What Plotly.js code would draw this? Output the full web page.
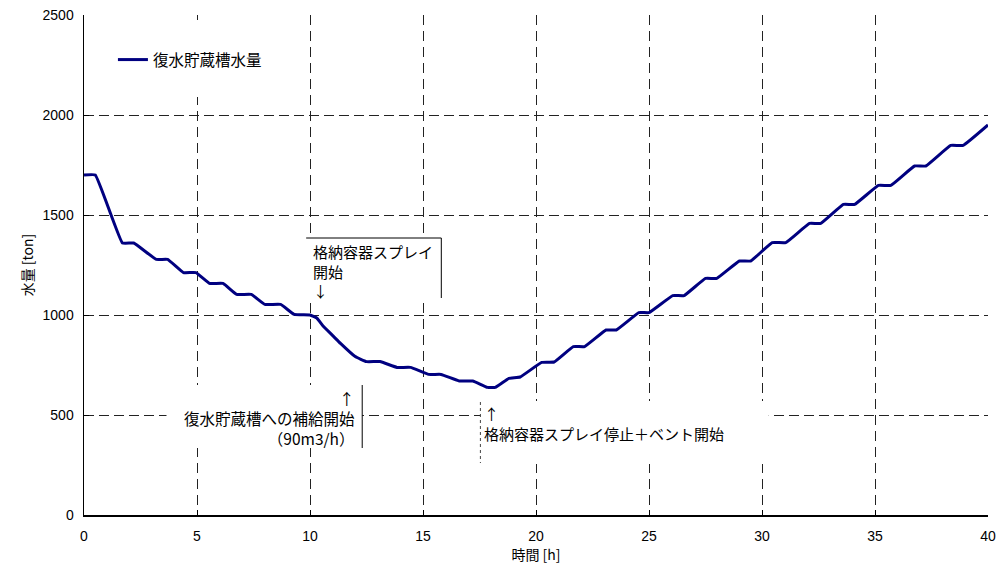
<!DOCTYPE html>
<html>
<head>
<meta charset="utf-8">
<script src="https://cdn.plot.ly/plotly-3.0.1.min.js"></script>
<style>html,body{margin:0;padding:0;background:#fff;}#chart{width:1003px;height:568px;}</style>
</head>
<body>
<div id="chart"></div>
<script>
// time [h]
const hours = [0, 0.5, 1.7, 2.2, 3.2, 3.7, 4.4, 4.95, 5.55, 6.15, 6.75, 7.4, 8.0, 8.7, 9.3, 10.0,
  10.3, 10.6, 11.05, 11.35, 12.0, 12.5, 13.1, 13.85, 14.45, 15.25, 15.8, 16.6, 17.2, 17.85, 18.2,
  18.8, 19.3, 20.25, 20.8, 21.65, 22.15, 23.1, 23.55, 24.55, 25.0, 26.05, 26.55, 27.5, 28.0,
  29.0, 29.5, 30.45, 31.05, 32.1, 32.6, 33.6, 34.1, 35.15, 35.7, 36.75, 37.25, 38.35, 38.9, 40];
// 復水貯蔵槽水量 [ton]
const tankWater = [1700, 1700, 1360, 1360, 1278, 1278, 1212, 1212, 1158, 1158, 1103, 1103, 1053, 1053, 1003, 1000,
  985, 942, 892, 858, 792, 767, 767, 738, 738, 703, 703, 670, 670, 638, 638,
  683, 690, 763, 765, 842, 842, 925, 925, 1012, 1012, 1097, 1097, 1183, 1183,
  1270, 1270, 1362, 1362, 1458, 1458, 1553, 1553, 1648, 1648, 1745, 1745, 1848, 1848, 1950];

const seriesName = '復水貯蔵槽水量';
const xTitle = '時間 [h]';
const yTitle = '水量 [ton]';
const xTicks = [0, 5, 10, 15, 20, 25, 30, 35, 40];
const yTicks = [0, 500, 1000, 1500, 2000, 2500];
const noteSprayStart = '格納容器スプレイ<br>開始<br>↓';
const noteSupply = '↑<br>復水貯蔵槽への補給開始<br>（90m3/h）';
const noteVent = '↑<br>格納容器スプレイ停止＋ベント開始';

const FONT = '"Noto Sans CJK JP", "Liberation Sans", sans-serif';

const trace = {
  x: hours, y: tankWater, type: 'scatter', mode: 'lines', name: seriesName,
  line: {color: '#000080', width: 3, shape: 'spline', smoothing: 0.3}
};

const layout = {
  width: 1003, height: 568,
  margin: {l: 84, r: 15, t: 15, b: 53},
  paper_bgcolor: '#fff', plot_bgcolor: '#fff',
  font: {family: FONT, size: 14, color: '#000'},
  showlegend: true,
  legend: {x: 0.032, y: 0.91, xanchor: 'left', yanchor: 'middle', bgcolor: 'rgba(0,0,0,0)',
    font: {family: FONT, size: 15.5, color: '#000'}},
  xaxis: {
    range: [0, 40], tickvals: xTicks, ticks: 'inside', ticklen: 5, tickcolor: '#000',
    showline: true, linecolor: '#000', linewidth: 1.5, zeroline: false,
    showgrid: true, gridcolor: '#222', gridwidth: 1, griddash: '10px,6px',
    ticklabelstandoff: 8,
    tickfont: {family: '"Liberation Sans", sans-serif', size: 14},
    title: {text: xTitle, font: {family: FONT, size: 14}, standoff: 6}
  },
  yaxis: {
    range: [0, 2500], tickvals: yTicks, ticks: 'inside', ticklen: 5, tickcolor: '#000',
    showline: true, linecolor: '#000', linewidth: 1.5, zeroline: false,
    showgrid: true, gridcolor: '#222', gridwidth: 1, griddash: '10px,5px',
    ticklabelstandoff: 6,
    tickfont: {family: '"Liberation Sans", sans-serif', size: 14},
    title: {text: yTitle, font: {family: FONT, size: 14}, standoff: 5}
  },
  shapes: [
    // legend backing
    {type: 'rect', xref: 'x', yref: 'y', x0: 0.95, x1: 9.15, y0: 2090, y1: 2475, fillcolor: '#fff', line: {width: 0}, layer: 'above'},
    // box 1
    {type: 'rect', xref: 'x', yref: 'y', x0: 9.83, x1: 15.81, y0: 1085, y1: 1385, fillcolor: '#fff', line: {width: 0}, layer: 'above'},
    {type: 'line', xref: 'x', yref: 'y', x0: 9.83, x1: 15.81, y0: 1385, y1: 1385, line: {color: '#000', width: 1}, layer: 'above'},
    {type: 'line', xref: 'x', yref: 'y', x0: 15.81, x1: 15.81, y0: 1385, y1: 1085, line: {color: '#000', width: 1}, layer: 'above'},
    // box 2
    {type: 'rect', xref: 'x', yref: 'y', x0: 3.65, x1: 12.31, y0: 335, y1: 650, fillcolor: '#fff', line: {width: 0}, layer: 'above'},
    {type: 'line', xref: 'x', yref: 'y', x0: 12.31, x1: 12.31, y0: 650, y1: 335, line: {color: '#000', width: 1}, layer: 'above'},
    // box 3
    {type: 'rect', xref: 'x', yref: 'y', x0: 17.54, x1: 30.3, y0: 255, y1: 570, fillcolor: '#fff', line: {width: 0}, layer: 'above'},
    {type: 'line', xref: 'x', yref: 'y', x0: 17.54, x1: 17.54, y0: 565, y1: 260, line: {color: '#444', width: 1, dash: 'dot'}, layer: 'above'}
  ],
  annotations: [
    {xref: 'x', yref: 'y', x: 10.06, y: 1378, xanchor: 'left', yanchor: 'top', align: 'left', showarrow: false,
      text: noteSprayStart, font: {family: FONT, size: 15, color: '#000'}},
    {xref: 'x', yref: 'y', x: 12.1, y: 652, xanchor: 'right', yanchor: 'top', align: 'right', showarrow: false,
      text: noteSupply, font: {family: FONT, size: 15.5, color: '#000'}},
    {xref: 'x', yref: 'y', x: 17.6, y: 572, xanchor: 'left', yanchor: 'top', align: 'left', showarrow: false,
      text: noteVent, font: {family: FONT, size: 15, color: '#000'}}
  ]
};

Plotly.newPlot('chart', [trace], layout, {displayModeBar: false, staticPlot: true});
</script>
</body>
</html>
